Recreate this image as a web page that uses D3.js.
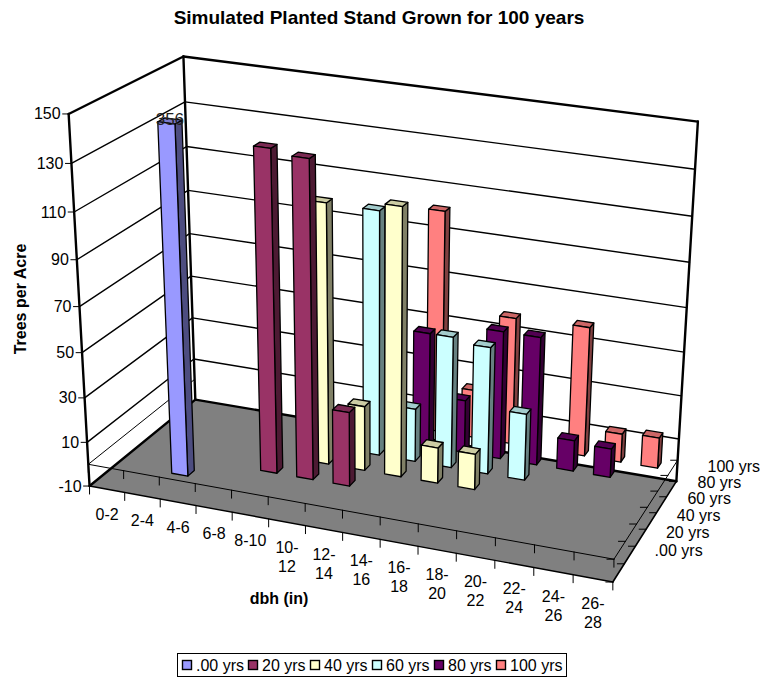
<!DOCTYPE html>
<html><head><meta charset="utf-8">
<script src="https://cdn.jsdelivr.net/npm/d3@7/dist/d3.min.js"></script>
<style>html,body{margin:0;padding:0;background:#fff}svg{display:block}text{font-family:"Liberation Sans",Arial,sans-serif;fill:#000}</style>
</head><body><svg id="c" width="760" height="677"></svg>
<script>
const categories=[["0-2"],["2-4"],["4-6"],["6-8"],["8-10"],["10-","12"],["12-","14"],["14-","16"],["16-","18"],["18-","20"],["20-","22"],["22-","24"],["24-","26"],["26-","28"]];
const seriesNames=[".00 yrs","20 yrs","40 yrs","60 yrs","80 yrs","100 yrs"];
const yrs00=[0,0,356,0,0,0,0,0,0,0,0,0,0,0];
const yrs20=[0,0,0,0,140,138,33,0,0,0,0,0,0,0];
const yrs40=[0,0,0,0,0,115,29,118,16,16,0,0,0,0];
const yrs60=[0,0,0,0,0,0,109,24,59,57,30,0,0,0];
const yrs80=[0,0,0,0,0,0,0,52,24,58,58,14,13,0];
const yrs100=[0,0,0,0,0,0,0,101,22,58,0,59,13,14];
const seriesValues=[yrs00,yrs20,yrs40,yrs60,yrs80,yrs100];
const frontColors=["#9999FF","#993366","#FFFFCC","#CCFFFF","#660066","#FF8080"];
const valueTicks=[-10,10,30,50,70,90,110,130,150];

const xS=d3.scaleLinear().domain([0,14]).range([0,1]);
const dS=d3.scaleLinear().domain([0,6]).range([0,1]);
const vS=d3.scaleLinear().domain([-10,150]).range([0,1]);

// camera fit: unit-cube corners -> screen anchors
const anchors=[[0,0,0,90,486],[0,0,1,69,113],[0,1,0,195,400],[0,1,1,183,57],[1,0,0,612,583],[1,1,0,677,480],[1,1,1,698,122]];
function solve(A,b){const n=b.length,M=A.map((r,i)=>[...r,b[i]]);
  for(let i=0;i<n;i++){let p=i;for(let k=i+1;k<n;k++)if(Math.abs(M[k][i])>Math.abs(M[p][i]))p=k;[M[i],M[p]]=[M[p],M[i]];
    for(let k=0;k<n;k++){if(k===i)continue;const f=M[k][i]/M[i][i];for(let j=i;j<=n;j++)M[k][j]-=f*M[i][j];}}
  return M.map((r,i)=>r[n]/r[i]);}
const rows=[],rhs=[];
anchors.forEach(([x,y,z,u,v])=>{rows.push([x,y,z,1,0,0,0,0,-u*x,-u*y,-u*z]);rhs.push(u);rows.push([0,0,0,0,x,y,z,1,-v*x,-v*y,-v*z]);rhs.push(v);});
const AtA=d3.range(11).map(i=>d3.range(11).map(j=>d3.sum(rows,r=>r[i]*r[j])));
const Atb=d3.range(11).map(i=>d3.sum(rows,(r,k)=>r[i]*rhs[k]));
const m=solve(AtA,Atb);
function P(cat,row,val){const x=xS(cat),y=dS(row),z=vS(val),w=m[8]*x+m[9]*y+m[10]*z+1;
  return [(m[0]*x+m[1]*y+m[2]*z+m[3])/w,(m[4]*x+m[5]*y+m[6]*z+m[7])/w];}

const svg=d3.select("#c");
const line=(a,b,sw)=>svg.append("line").attr("x1",a[0]).attr("y1",a[1]).attr("x2",b[0]).attr("y2",b[1]).attr("stroke","#000").attr("stroke-width",sw).attr("stroke-linecap","round");
const poly=(pts,fill,sw)=>svg.append("polygon").attr("points",pts.map(p=>p.join(",")).join(" ")).attr("fill",fill).attr("stroke","#000").attr("stroke-width",sw).attr("stroke-linejoin","round");

const vMin=-10,vMax=150,C=14,R=6;
// floor
poly([P(0,0,vMin),P(0,R,vMin),P(C,R,vMin),P(C,0,vMin)],"#808080",0);
// gridlines on both walls
valueTicks.slice(1,-1).forEach(v=>{line(P(0,0,v),P(0,R,v),1.4);line(P(0,R,v),P(C,R,v),1.4);});
// baseline (value 0) around the floor
line(P(0,0,0),P(0,R,0),1);
line(P(0,0,0),P(C,0,0),1);
line(P(C,0,0),P(C,R,0),1);
// wall frame
[[P(0,0,vMin),P(0,0,vMax)],[P(0,0,vMax),P(0,R,vMax)],[P(0,R,vMax),P(C,R,vMax)],[P(0,R,vMin),P(0,R,vMax)],[P(C,R,vMin),P(C,R,vMax)],[P(0,0,vMin),P(0,R,vMin)],[P(0,R,vMin),P(C,R,vMin)]].forEach(s=>line(s[0],s[1],2.4));
line(P(0,0,vMin),P(C,0,vMin),1.4);
line(P(C,0,vMin),P(C,R,vMin),1.6);
// ticks
d3.range(0,C+1).forEach(i=>{[vMin,0].forEach(v=>{const a=P(i,0,v);line(a,[a[0],a[1]+8],1);});});
d3.range(0,R+1).forEach(i=>{[vMin,0].forEach(v=>{const a=P(C,i,v);line(a,[a[0]-7,a[1]],1);});});
valueTicks.forEach(v=>{const a=P(0,0,v);line(a,[a[0]-6,a[1]],1);
  svg.append("text").attr("x",a[0]-8).attr("y",a[1]).attr("text-anchor","end").attr("dominant-baseline","central").attr("font-size",16).text(v);});
// bars: back row first, left to right
const barW=0.45,barD=0.36,barShift=-0.09;
const shade=(c,k)=>{const q=d3.rgb(c);return d3.rgb(q.r*k,q.g*k,q.b*k).formatHex();};
const labels=[];
d3.range(R-1,-1,-1).forEach(r=>{seriesValues[r].forEach((val,c)=>{ if(!val) return;
  const t=Math.min(val,vMax),x0=c+(1-barW)/2+barShift,x1=x0+barW,d0=r+(1-barD)/2,d1=d0+barD;
  const col=frontColors[r];
  poly([P(x1,d0,0),P(x1,d1,0),P(x1,d1,t),P(x1,d0,t)],shade(col,0.5),1.3);
  poly([P(x0,d0,t),P(x1,d0,t),P(x1,d1,t),P(x0,d1,t)],shade(col,0.8),1.3);
  poly([P(x0,d0,0),P(x1,d0,0),P(x1,d0,t),P(x0,d0,t)],col,1.3);
  if(val>vMax) labels.push({p:P(c+0.5+barShift,r+0.5,t),val});
});});
labels.forEach(l=>svg.append("text").attr("x",l.p[0]).attr("y",l.p[1]-1).attr("text-anchor","middle").attr("dominant-baseline","central").attr("font-size",17).attr("style","fill:#222").text(l.val));
// category labels
categories.forEach((ls,i)=>{const a=P(i+0.5,0,vMin);
  ls.forEach((s,k)=>svg.append("text").attr("x",a[0]).attr("y",a[1]+25+k*19).attr("text-anchor","middle").attr("dominant-baseline","central").attr("font-size",16).text(s));});
// series labels
seriesNames.forEach((s,r)=>{const a=P(C,r+0.5,vMin);
  svg.append("text").attr("x",a[0]+36).attr("y",a[1]-22).attr("dominant-baseline","central").attr("font-size",16).text(s);});
// titles
svg.append("text").attr("x",379).attr("y",17).attr("text-anchor","middle").attr("dominant-baseline","central").attr("font-size",19).attr("font-weight","bold").text("Simulated Planted Stand Grown for 100 years");
svg.append("text").attr("transform","translate(20,299) rotate(-90)").attr("text-anchor","middle").attr("dominant-baseline","central").attr("font-size",16).attr("font-weight","bold").text("Trees per Acre");
svg.append("text").attr("x",279).attr("y",598).attr("text-anchor","middle").attr("dominant-baseline","central").attr("font-size",16).attr("font-weight","bold").text("dbh (in)");
// legend
svg.append("rect").attr("x",177.5).attr("y",653.5).attr("width",389).attr("height",23).attr("fill","#fff").attr("stroke","#000");
const lx=i=>i===0?182:248+62*(i-1);
seriesNames.forEach((s,i)=>{
  svg.append("rect").attr("x",lx(i)+.5).attr("y",660.5).attr("width",9).attr("height",9).attr("fill",frontColors[i]).attr("stroke","#000").attr("stroke-width",1.4);
  svg.append("text").attr("x",lx(i)+14).attr("y",665).attr("dominant-baseline","central").attr("font-size",16).text(s);
});
</script></body></html>
